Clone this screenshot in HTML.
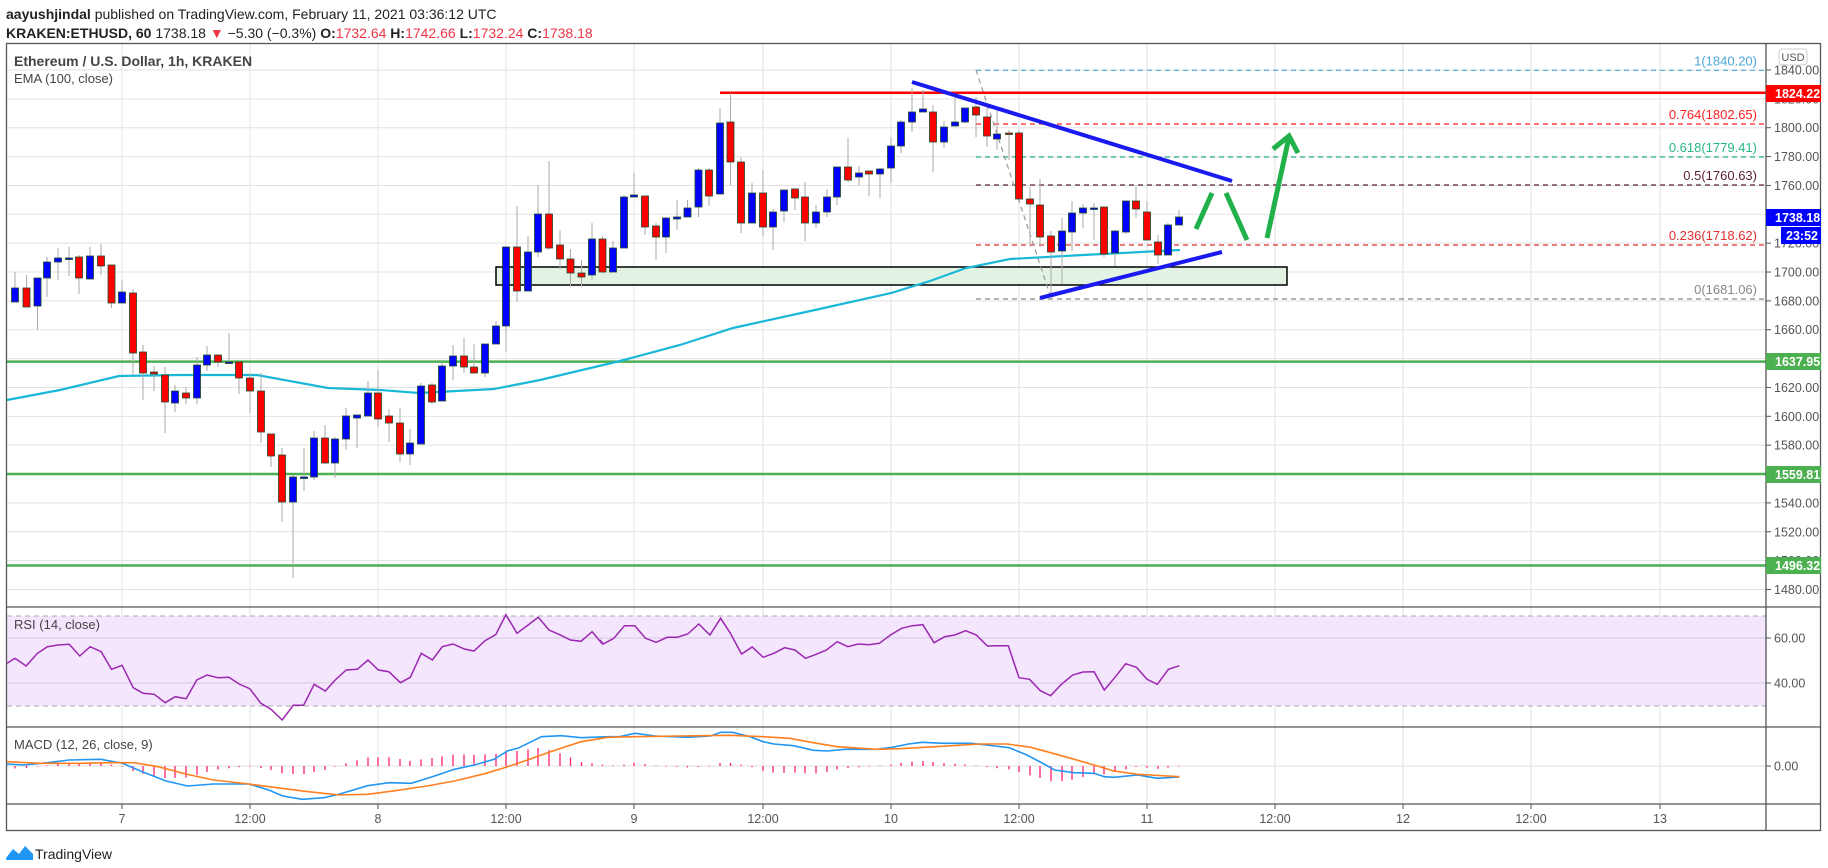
<!DOCTYPE html>
<html><head><meta charset="utf-8"><style>
html,body{margin:0;padding:0;background:#fff;width:1828px;height:868px;overflow:hidden}
svg{display:block;font-family:"Liberation Sans",sans-serif}
</style></head><body>
<svg id="s" width="1828" height="868" viewBox="0 0 1828 868" xmlns="http://www.w3.org/2000/svg">
<text x="6" y="19" font-size="14" fill="#222"><tspan font-weight="bold">aayushjindal</tspan> published on TradingView.com, February 11, 2021 03:36:12 UTC</text>
<text x="6" y="38" font-size="14" fill="#222"><tspan font-weight="bold">KRAKEN:ETHUSD, 60</tspan> 1738.18 <tspan fill="#f23645">▼</tspan> −5.30 (−0.3%) <tspan font-weight="bold">O:</tspan><tspan fill="#f23645">1732.64</tspan> <tspan font-weight="bold">H:</tspan><tspan fill="#f23645">1742.66</tspan> <tspan font-weight="bold">L:</tspan><tspan fill="#f23645">1732.24</tspan> <tspan font-weight="bold">C:</tspan><tspan fill="#f23645">1738.18</tspan></text>
<g id="grid"></g>
<rect x="7" y="616" width="1759" height="90" fill="#f3e6fd"/>
<g id="grid2"></g>
<line x1="7" y1="616" x2="1766" y2="616" stroke="#aaa" stroke-dasharray="5,4"/>
<line x1="7" y1="706" x2="1766" y2="706" stroke="#aaa" stroke-dasharray="5,4"/>
<rect x="496" y="267" width="791" height="18" fill="#e3f3e3" stroke="#000" stroke-width="1.5"/>
<g id="fib"></g>
<line x1="976" y1="70" x2="1051" y2="298" stroke="#999" stroke-dasharray="5,4" stroke-width="1.2"/>
<line x1="7" y1="361.6" x2="1766" y2="361.6" stroke="#4caf50" stroke-width="2.5"/>
<line x1="7" y1="474" x2="1766" y2="474" stroke="#4caf50" stroke-width="2.5"/>
<line x1="7" y1="565.5" x2="1766" y2="565.5" stroke="#4caf50" stroke-width="2.5"/>
<line x1="720" y1="92.8" x2="1766" y2="92.8" stroke="#ff0000" stroke-width="2.5"/>
<polyline fill="none" stroke="#1ab8d8" stroke-width="2.2" points="7,400 60,390 119,376 180,375 257,375 328,388 380,390 419,393 494,389 540,380 620,361 680,345 733,328 824,308 891,293 930,281 966,268 1010,259 1083,255 1180,250"/>
<g id="candles"></g>
<line x1="912" y1="82" x2="1232" y2="181" stroke="#1a1af0" stroke-width="4"/>
<line x1="1040" y1="298" x2="1222" y2="252" stroke="#1a1af0" stroke-width="4"/>
<g stroke="#22b04b" stroke-width="5" fill="none" stroke-linecap="butt">
<line x1="1196" y1="229" x2="1212" y2="193"/>
<line x1="1226" y1="193" x2="1247" y2="240"/>
<line x1="1267" y1="238" x2="1289" y2="137"/>
<polyline points="1273,149 1289,136 1298,153"/>
</g>
<polyline id="rsi" fill="none" stroke="#9c27b0" stroke-width="1.5"/>
<g id="hist"></g>
<polyline id="macd" fill="none" stroke="#2196f3" stroke-width="1.6"/>
<polyline id="sig" fill="none" stroke="#ff7f1f" stroke-width="1.6"/>
<text x="14" y="66" font-size="14" font-weight="bold" fill="#444">Ethereum / U.S. Dollar, 1h, KRAKEN</text>
<text x="14" y="83" font-size="13" fill="#444">EMA (100, close)</text>
<text x="14" y="629" font-size="13" fill="#444">RSI (14, close)</text>
<text x="14" y="749" font-size="13" fill="#444">MACD (12, 26, close, 9)</text>
<g stroke="#555" stroke-width="1.3" fill="none">
<rect x="6.5" y="43.5" width="1814" height="787"/>
<line x1="6" y1="607" x2="1821" y2="607"/>
<line x1="6" y1="727" x2="1821" y2="727"/>
<line x1="6" y1="804" x2="1821" y2="804"/>
<line x1="1766" y1="43" x2="1766" y2="831"/>
</g>
<g id="axis" font-size="12.5" fill="#555"></g>
<rect x="1779" y="49" width="28" height="16" rx="3" fill="#fff" stroke="#ccc"/>
<text x="1793" y="61" font-size="11" fill="#555" text-anchor="middle">USD</text>
<g font-size="12.5" font-weight="bold" fill="#fff">
<rect x="1766" y="85" width="55" height="17" fill="#ff0000"/><text x="1775" y="98">1824.22</text>
<rect x="1766" y="209" width="55" height="17" fill="#0000ff"/><text x="1775" y="222">1738.18</text>
<rect x="1781" y="227" width="40" height="17" fill="#0000ff"/><text x="1786" y="240">23:52</text>
<rect x="1766" y="353" width="55" height="17" fill="#4caf50"/><text x="1775" y="366">1637.95</text>
<rect x="1766" y="466" width="55" height="17" fill="#4caf50"/><text x="1775" y="479">1559.81</text>
<rect x="1766" y="557" width="55" height="17" fill="#4caf50"/><text x="1775" y="570">1496.32</text>
</g>
<g transform="translate(6,844)">
<path d="M0,14 L7,5 L13,10 L19,2 L27,10 L27,16 L0,16Z" fill="#2196f3"/>
<text x="29" y="15" font-size="14" fill="#222">TradingView</text>
</g>
</svg>
<script>
var NS="http://www.w3.org/2000/svg";
function el(p,t,a,txt){var e=document.createElementNS(NS,t);for(var k in a)e.setAttribute(k,a[k]);if(txt!=null)e.textContent=txt;document.getElementById(p).appendChild(e);return e;}
function py(p){return 70+(1840-p)*1.443;}
for(var p=1480;p<=1840;p+=20){var y=py(p);el("grid","line",{x1:7,y1:y,x2:1766,y2:y,stroke:"#e2e2e2"});}
var vx=[122,250,378,506,634,763,891,1019,1147,1275,1403,1531,1660];
var vl=["7","12:00","8","12:00","9","12:00","10","12:00","11","12:00","12","12:00","13"];
vx.forEach(function(x,i){el("grid","line",{x1:x,y1:43,x2:x,y2:804,stroke:"#e2e2e2"});
 el("axis","line",{x1:x,y1:804,x2:x,y2:809,stroke:"#555"});
 el("axis","text",{x:x,y:823,"text-anchor":"middle"},vl[i]);});
[638,683].forEach(function(y){el("grid2","line",{x1:7,y1:y,x2:1766,y2:y,stroke:"#d6c8e0"});});
el("grid2","line",{x1:7,y1:766,x2:1766,y2:766,stroke:"#e2e2e2"});
for(var p=1480;p<=1840;p+=20){var y=py(p);
 el("axis","line",{x1:1766,y1:y,x2:1771,y2:y,stroke:"#555"});
 el("axis","text",{x:1774,y:y+4.5},p.toFixed(2));}
[[638,"60.00"],[683,"40.00"],[766,"0.00"]].forEach(function(a){
 el("axis","line",{x1:1766,y1:a[0],x2:1771,y2:a[0],stroke:"#555"});
 el("axis","text",{x:1774,y:a[0]+4.5},a[1]);});
[[70.3,"#4aa8d8","1(1840.20)"],[124,"#ff2020","0.764(1802.65)"],[157,"#26b58a","0.618(1779.41)"],[185,"#5a1f3a","0.5(1760.63)"],[245,"#e03030","0.236(1718.62)"],[299,"#888","0(1681.06)"]].forEach(function(f){
 el("fib","line",{x1:976,y1:f[0],x2:1766,y2:f[0],stroke:f[1],"stroke-dasharray":"5,4","stroke-width":1.2});
 el("fib","text",{x:1757,y:f[0]-5,"text-anchor":"end","font-size":13,fill:f[1]},f[2]);});
var C=[[15,288,302,272,302,"b"],[26.5,288,307,275,307,"r"],[37.5,278,306,278,330,"b"],[47,262,278,257,297,"b"],[58,258,262,248,280,"b"],[69,258,259,247,276,"b"],[79,257,278,255,294,"r"],[90,256,279,247,279,"b"],[101,256,266,244,275,"r"],[111.5,265,303,265,308,"r"],[122,292,303,280,303,"b"],[133,293,353,289,375,"r"],[143,352,373,345,400,"r"],[154,372,374,366,391,"r"],[165,375,402,367,433,"r"],[175,391,403,385,412,"b"],[186,393,398,387,404,"r"],[197,365,398,357,404,"b"],[207,355,365,346,371,"b"],[218,355,362,355,367,"r"],[229,362,363,333,362,"b"],[239,362,378,362,394,"r"],[250,378,391,373,413,"r"],[261,391,432,373,443,"r"],[271,434,456,434,467,"r"],[282,455,502,448,522,"r"],[293,477,502,475,578,"b"],[304,477,478,448,491,"b"],[314,438,477,431,480,"b"],[325,438,463,425,464,"r"],[335,439,463,437,478,"b"],[346,416,439,408,450,"b"],[357,415,418,415,448,"b"],[368,393,416,381,416,"b"],[378,393,419,370,427,"r"],[389,416,423,409,442,"r"],[400,423,454,408,462,"r"],[410,443,454,429,465,"b"],[421,386,444,383,444,"b"],[432,385,402,383,404,"r"],[442,366,401,362,401,"b"],[453,356,366,345,380,"b"],[464,356,367,338,373,"r"],[474,367,373,344,373,"r"],[485,344,373,344,377,"b"],[496,326,344,321,344,"b"],[506,247,326,247,352,"b"],[517,247,291,206,302,"r"],[528,252,291,236,291,"b"],[538,214,252,185,257,"b"],[549,214,248,161,250,"r"],[560,245,259,230,269,"r"],[570.5,259,273,249,287,"r"],[581.5,273,277,260,287,"r"],[592,239,275,223,280,"b"],[602.5,239,272,236,273,"r"],[613,248,272,241,272,"b"],[624,197,248,195,248,"b"],[634,195,197,173,197,"b"],[645,196,227,196,235,"r"],[656,226,237,223,260,"r"],[666,218,237,217,253,"b"],[677,217,219,200,230,"b"],[687.5,208,217,200,217,"b"],[698.5,170,207,168,217,"b"],[709,170,196,168,206,"r"],[720,123,194,108,194,"b"],[730.5,122,162,93,185,"r"],[741,162,223,157,233,"r"],[752,193,223,183,223,"b"],[763,193,227,170,236,"r"],[773,212,227,209,250,"b"],[784,190,211,190,222,"b"],[795,189,198,189,210,"r"],[805,197,223,182,241,"r"],[816,212,223,205,228,"b"],[827,197,212,189,217,"b"],[837,167,197,167,205,"b"],[848,167,180,138,182,"r"],[859,173,177,166,185,"b"],[869,171,174,171,196,"r"],[880,169,174,168,198,"b"],[891,146,168,137,183,"b"],[901,122,146,120,153,"b"],[912,112,122,88,132,"b"],[923,109,112,90,112,"b"],[933,112,142,105,172,"r"],[944,127,142,121,148,"b"],[955,122,126,93,126,"b"],[965,108,122,108,123,"b"],[976,107,115,97,137,"r"],[987,117,136,107,147,"r"],[997,134,139,110,150,"b"],[1009,133,134,130,160,"r"],[1019,133,199,130,200,"r"],[1030,199,204,187,247,"r"],[1040,205,237,179,247,"r"],[1051,236,252,231,298,"r"],[1062,231,251,218,284,"b"],[1072,213,232,201,251,"b"],[1083,208,213,204,228,"b"],[1094,208,209,203,240,"b"],[1104,207,254,207,257,"r"],[1115,231,253,230,266,"b"],[1126,201,232,201,234,"b"],[1136,201,209,186,218,"r"],[1147,212,240,201,240,"r"],[1158,242,255,235,264,"r"],[1168,225,255,223,255,"b"],[1179,217,225,210,225,"b"]];
C.forEach(function(c){
 el("candles","line",{x1:c[0],y1:c[3],x2:c[0],y2:c[4],stroke:"#aaa","stroke-width":1});
 el("candles","rect",{x:c[0]-3.5,y:c[1],width:7,height:Math.max(1.5,c[2]-c[1]),fill:c[5]=="b"?"#0000ff":"#ff0000",stroke:"#1e4a2a","stroke-width":0.8});
});
function cv(a,ox){return a.map(function(q){return [ox+q[0]/2.53,600+q[1]/3];});}
function join(){var r=[];for(var i=0;i<arguments.length;i++)r=r.concat(arguments[i]);return r;}
function ps(a){return a.map(function(q){return q[0].toFixed(1)+","+q[1].toFixed(1);}).join(" ");}
var rsiL=[[18,190],[38,175],[66,198],[95,160],[120,140],[147,135],[175,133],[202,168],[228,140],[256,155],[282,208],[309,196],[337,263],[362,280],[390,283],[418,308],[443,290],[471,296],[498,240],[524,225],[551,233],[579,232],[605,252],[632,266],[660,310],[686,328],[714,360],[742,316],[768,316],[795,253],[823,273],[848,240],[876,210],[904,208],[931,180],[957,210],[984,215],[1013,248],[1038,232],[1066,160],[1094,180],[1119,140],[1146,132],[1175,147],[1199,153],[1227,122],[1254,104],[1280,44],[1308,100],[1336,75],[1362,52],[1389,90],[1416,104],[1443,120],[1470,124],[1498,95],[1524,132]];
var rsiR=[[0,120],[8,132],[35,115],[62,77],[88,77],[115,115],[142,127],[170,112],[195,112],[222,102],[250,72],[278,105],[305,55],[330,100],[358,162],[385,141],[413,172],[440,160],[467,143],[493,150],[520,175],[547,163],[573,150],[600,125],[627,140],[653,132],[680,134],[707,130],[735,105],[763,85],[790,77],[817,74],[845,128],[872,110],[898,105],[925,92],[952,105],[980,138],[1005,137],[1033,137],[1060,233],[1087,238],[1114,272],[1140,287],[1168,252],[1196,225],[1222,216],[1250,215],[1276,270],[1303,232],[1330,191],[1357,202],[1384,238],[1410,253],[1438,208],[1466,197]];
document.getElementById("rsi").setAttribute("points",ps(join(cv(rsiL,0),cv(rsiR,600))));
var mL=[[18,492],[60,495],[120,488],[175,480],[255,478],[310,490],[360,515],[420,543],[475,558],[540,552],[630,552],[680,570],[715,588],[765,598],[820,593],[860,582],[930,557],[985,548],[1040,550],[1090,532],[1150,508],[1200,495],[1250,478],[1285,452],[1310,445],[1370,410],[1420,407],[1470,413]];
var mR=[[20,410],[50,410],[88,400],[140,408],[220,412],[280,408],[305,397],[335,397],[380,410],[413,425],[440,432],[490,437],[540,451],[575,453],[620,448],[700,448],[740,442],[780,432],[815,427],[870,430],[940,430],[1000,438],[1035,443],[1080,465],[1120,490],[1150,510],[1200,518],[1250,520],[1276,530],[1300,532],[1360,525],[1410,535],[1466,531]];
var sL=[[18,485],[100,490],[200,490],[280,488],[340,488],[400,500],[470,522],[540,540],[630,552],[700,563],[780,575],[860,585],[930,583],[1000,572],[1080,558],[1150,543],[1230,520],[1280,502],[1340,478],[1400,452],[1470,425]];
var sR=[[20,412],[88,410],[200,408],[330,406],[413,410],[480,415],[540,428],[600,440],[700,448],[760,446],[850,440],[960,432],[1030,432],[1090,442],[1140,458],[1200,478],[1250,495],[1300,513],[1360,523],[1466,530]];
var M=join(cv(mL,0),cv(mR,600)),S=join(cv(sL,0),cv(sR,600));
document.getElementById("macd").setAttribute("points",ps(M));
document.getElementById("sig").setAttribute("points",ps(S));
function interp(a,x){for(var i=0;i<a.length-1;i++){if(x>=a[i][0]&&x<=a[i+1][0]){var t=(x-a[i][0])/(a[i+1][0]-a[i][0]);return a[i][1]+t*(a[i+1][1]-a[i][1]);}}return a[x<a[0][0]?0:a.length-1][1];}
C.forEach(function(c){var d=(interp(S,c[0])-interp(M,c[0]));
 if(Math.abs(d)<0.6)d=d<0?-0.6:0.6;
 el("hist","line",{x1:c[0],y1:766,x2:c[0],y2:766-d,stroke:"#ff1f6e","stroke-width":1.3});});
</script>
</body></html>
